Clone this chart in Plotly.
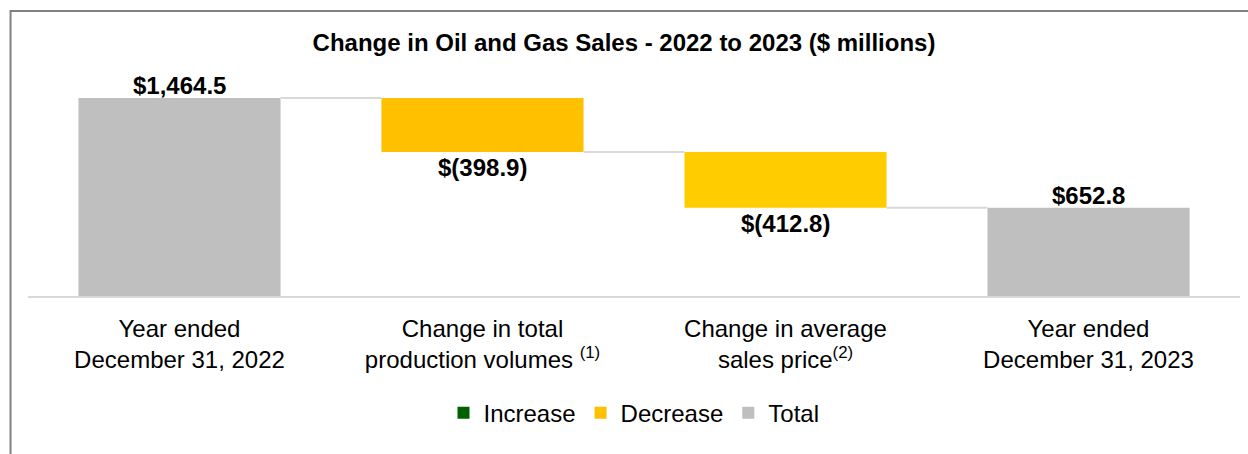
import plotly.graph_objects as go

# Waterfall inputs ($ millions)
categories = [
    "Year ended<br>December 31, 2022",
    "Change in total<br>production volumes <sup>(1)</sup>",
    "Change in average<br>sales price<sup>(2)</sup>",
    "Year ended<br>December 31, 2023",
]
start_total = 1464.5
changes = [-398.9, -412.8]
end_total = 652.8
value_labels = ["$1,464.5", "$(398.9)", "$(412.8)", "$652.8"]

# running levels before/after each change
levels = [start_total]
for c in changes:
    levels.append(round(levels[-1] + c, 1))

bar_w = 0.667
x_pos = list(range(len(categories)))
change_x = x_pos[1:-1]

inc_y = [max(c, 0) for c in changes]
inc_base = [levels[i] for i in range(len(changes))]
dec_y = [-min(c, 0) for c in changes]
dec_base = [levels[i + 1] for i in range(len(changes))]

FONT = "Liberation Sans, Arial, sans-serif"

fig = go.Figure()
fig.add_trace(go.Bar(
    name="Increase", x=change_x, y=inc_y, base=inc_base, width=bar_w,
    marker=dict(color="#006100", line=dict(width=0)),
))
fig.add_trace(go.Bar(
    name="Decrease", x=change_x, y=dec_y, base=dec_base, width=bar_w,
    marker=dict(color=["#ffc000", "#ffcc00"], line=dict(width=0)),
))
fig.add_trace(go.Bar(
    name="Total", x=[x_pos[0], x_pos[-1]], y=[start_total, end_total], width=bar_w,
    marker=dict(color="#bfbfbf", line=dict(width=0)),
))

# connector lines between consecutive bars
for i in range(len(categories) - 1):
    lvl = levels[i] if i < len(levels) else end_total
    fig.add_trace(go.Scatter(
        x=[i + bar_w / 2, i + 1 - bar_w / 2], y=[lvl, lvl], mode="lines",
        line=dict(color="#d9d9d9", width=2), showlegend=False, hoverinfo="skip",
    ))

# value labels: totals above, changes below
label_font = dict(family=FONT, size=24, color="#000000")
fig.add_annotation(x=x_pos[0], y=start_total, text="<b>%s</b>" % value_labels[0],
                   showarrow=False, yanchor="bottom", yshift=-3, font=label_font)
for k, xi in enumerate(change_x):
    fig.add_annotation(x=xi, y=dec_base[k], text="<b>%s</b>" % value_labels[k + 1],
                       showarrow=False, yanchor="top", yshift=0, font=label_font)
fig.add_annotation(x=x_pos[-1], y=end_total, text="<b>%s</b>" % value_labels[-1],
                   showarrow=False, yanchor="bottom", yshift=-3, font=label_font)

# outer frame
fig.add_shape(type="rect", xref="paper", yref="paper",
              x0=-0.0144, x1=1.1, y0=-2, y1=1.2076,
              line=dict(color="#808080", width=2), layer="above")

fig.update_layout(
    width=1248, height=454,
    margin=dict(l=28, r=8, t=60, b=158),
    paper_bgcolor="#ffffff", plot_bgcolor="#ffffff",
    barmode="overlay",
    title=dict(text="<b>Change in Oil and Gas Sales - 2022 to 2023 ($ millions)</b>",
               x=0.5, xanchor="center", y=0.907, yanchor="middle",
               font=dict(family=FONT, size=24, color="#000000")),
    legend=dict(orientation="h", x=0.5, xanchor="center", y=-0.496, yanchor="middle",
                font=dict(family=FONT, size=24, color="#000000"),
                itemwidth=30, traceorder="normal"),
    showlegend=True,
    font=dict(family=FONT, color="#000000"),
)
fig.update_xaxes(
    range=[-0.5, len(categories) - 0.5], tickmode="array", tickvals=x_pos, ticktext=categories,
    showgrid=False, zeroline=False, showline=True, linecolor="#d9d9d9", linewidth=2,
    ticks="outside", ticklen=10, tickcolor="rgba(0,0,0,0)",
    tickfont=dict(family=FONT, size=24, color="#000000"),
)
fig.update_yaxes(range=[0, 1745.6], visible=False, showgrid=False, zeroline=False)

fig.write_html("out.html")
